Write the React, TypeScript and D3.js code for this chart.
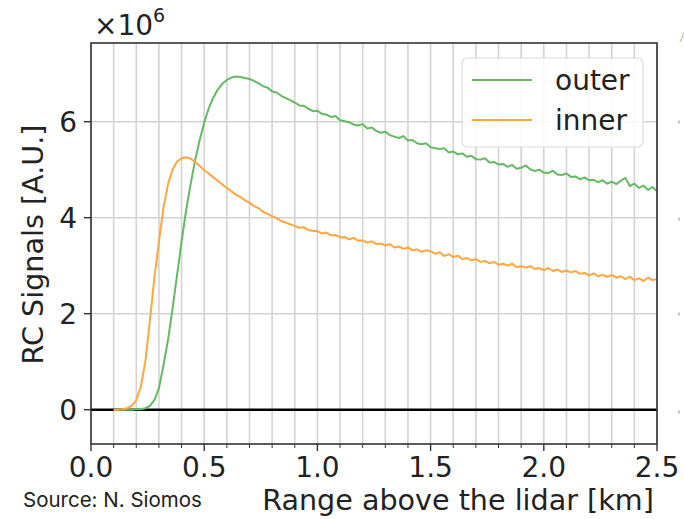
import React from "react";
import * as d3 from "d3";

// Range bins [km]
const rangeKm = [
  0.10, 0.12, 0.14, 0.16, 0.18, 0.20, 0.22, 0.24, 0.26, 0.28,
  0.30, 0.32, 0.34, 0.36, 0.38, 0.40, 0.42, 0.44, 0.46, 0.48,
  0.50, 0.52, 0.54, 0.56, 0.58, 0.60, 0.62, 0.64, 0.66, 0.68,
  0.70, 0.72, 0.74, 0.76, 0.78, 0.80, 0.82, 0.84, 0.86, 0.88,
  0.90, 0.92, 0.94, 0.96, 0.98, 1.00, 1.02, 1.04, 1.06, 1.08,
  1.10, 1.12, 1.14, 1.16, 1.18, 1.20, 1.22, 1.24, 1.26, 1.28,
  1.30, 1.32, 1.34, 1.36, 1.38, 1.40, 1.42, 1.44, 1.46, 1.48,
  1.50, 1.52, 1.54, 1.56, 1.58, 1.60, 1.62, 1.64, 1.66, 1.68,
  1.70, 1.72, 1.74, 1.76, 1.78, 1.80, 1.82, 1.84, 1.86, 1.88,
  1.90, 1.92, 1.94, 1.96, 1.98, 2.00, 2.02, 2.04, 2.06, 2.08,
  2.10, 2.12, 2.14, 2.16, 2.18, 2.20, 2.22, 2.24, 2.26, 2.28,
  2.30, 2.32, 2.34, 2.36, 2.38, 2.40, 2.42, 2.44, 2.46, 2.48,
  2.50,
];

// RC signals in units of 1e6
const outerSignal = [
  0.00, 0.00, 0.00, 0.00, 0.00, 0.01, 0.01, 0.03, 0.08, 0.20,
  0.45, 0.92, 1.45, 2.10, 2.80, 3.50, 4.15, 4.70, 5.20, 5.62,
  5.98, 6.28, 6.50, 6.67, 6.79, 6.87, 6.92, 6.94, 6.93, 6.91,
  6.89, 6.85, 6.80, 6.74, 6.71, 6.63, 6.61, 6.54, 6.49, 6.45,
  6.40, 6.34, 6.33, 6.27, 6.22, 6.23, 6.16, 6.15, 6.10, 6.12,
  6.03, 6.01, 5.99, 5.94, 5.92, 5.95, 5.86, 5.88, 5.81, 5.77,
  5.79, 5.72, 5.69, 5.66, 5.70, 5.61, 5.62, 5.55, 5.53, 5.55,
  5.47, 5.45, 5.43, 5.45, 5.36, 5.38, 5.32, 5.34, 5.27, 5.29,
  5.22, 5.21, 5.24, 5.15, 5.16, 5.11, 5.12, 5.06, 5.10, 5.02,
  5.04, 5.09, 5.01, 4.97, 5.00, 4.94, 4.93, 4.98, 4.90, 4.89,
  4.92, 4.85, 4.86, 4.80, 4.84, 4.78, 4.79, 4.74, 4.78, 4.71,
  4.75, 4.70, 4.77, 4.83, 4.66, 4.71, 4.62, 4.67, 4.58, 4.64,
  4.55,
];

const innerSignal = [
  0.00, 0.00, 0.01, 0.03, 0.08, 0.20, 0.48, 1.00, 1.85, 2.75,
  3.50, 4.20, 4.70, 5.00, 5.17, 5.24, 5.26, 5.23, 5.16, 5.08,
  4.99, 4.92, 4.84, 4.77, 4.69, 4.62, 4.55, 4.48, 4.43, 4.36,
  4.31, 4.24, 4.20, 4.12, 4.08, 4.03, 3.99, 3.93, 3.90, 3.86,
  3.83, 3.79, 3.80, 3.74, 3.73, 3.72, 3.67, 3.69, 3.63, 3.64,
  3.59, 3.60, 3.55, 3.58, 3.52, 3.53, 3.48, 3.51, 3.45, 3.46,
  3.42, 3.45, 3.38, 3.40, 3.35, 3.38, 3.32, 3.34, 3.29, 3.32,
  3.30, 3.25, 3.28, 3.20, 3.24, 3.18, 3.21, 3.14, 3.16, 3.11,
  3.14, 3.08, 3.10, 3.05, 3.08, 3.02, 3.04, 3.00, 3.04, 2.97,
  2.99, 2.96, 2.99, 2.93, 2.95, 2.91, 2.95, 2.89, 2.92, 2.87,
  2.90, 2.86, 2.89, 2.83, 2.85, 2.80, 2.84, 2.78, 2.81, 2.77,
  2.81, 2.75, 2.78, 2.72, 2.77, 2.70, 2.74, 2.68, 2.75, 2.70,
  2.72,
];

const seriesNames = ["outer", "inner"];
const seriesColors = ["#64b964", "#ffa640"];
const xTickLabels = ["0.0", "0.5", "1.0", "1.5", "2.0", "2.5"];
const xMajorTicks = [0, 0.5, 1.0, 1.5, 2.0, 2.5];
const xMinorTicks = [0.1, 0.2, 0.3, 0.4, 0.6, 0.7, 0.8, 0.9, 1.1, 1.2, 1.3, 1.4, 1.6, 1.7, 1.8, 1.9, 2.1, 2.2, 2.3, 2.4];
const yTicks = [0, 2, 4, 6];
const yTickLabels = ["0", "2", "4", "6"];

const W = 684;
const H = 519;
const L = 91, R = 657, T = 43, B = 444;
const FONT = "'DejaVu Sans', sans-serif";
const FS = 28;

export default function App() {
  const x = d3.scaleLinear().domain([0, 2.5]).range([L, R]);
  const y = d3.scaleLinear().domain([-0.715, 7.64]).range([B, T]);
  const line = d3
    .line<number>()
    .x((_, i) => x(rangeKm[i]))
    .y((d) => y(d));
  const series = [outerSignal, innerSignal];
  const allX = [...xMajorTicks, ...xMinorTicks];

  return (
    <svg
      width={W}
      height={H}
      style={{ position: "absolute", left: 0, top: 0, background: "#fff" }}
      fontFamily={FONT}
    >
      <rect x={0} y={0} width={W} height={H} fill="#fff" />
      {allX.map((t) => (
        <line key={"vg" + t} x1={x(t)} x2={x(t)} y1={T} y2={B} stroke="#d3d3d3" strokeWidth={1.6} />
      ))}
      {yTicks.map((t) => (
        <line key={"hg" + t} x1={L} x2={R} y1={y(t)} y2={y(t)} stroke="#d3d3d3" strokeWidth={1.6} />
      ))}
      <line x1={L} x2={R} y1={y(0)} y2={y(0)} stroke="#000" strokeWidth={2.4} />
      {series.map((s, i) => (
        <path key={"s" + i} d={line(s) || ""} fill="none" stroke={seriesColors[i]} strokeWidth={2} strokeLinejoin="round" />
      ))}
      <rect x={L} y={T} width={R - L} height={B - T} fill="none" stroke="#333" strokeWidth={1.6} />
      {xMajorTicks.map((t) => (
        <line key={"xt" + t} x1={x(t)} x2={x(t)} y1={B} y2={B + 7} stroke="#333" strokeWidth={1.4} />
      ))}
      {xMinorTicks.map((t) => (
        <line key={"xm" + t} x1={x(t)} x2={x(t)} y1={B} y2={B + 4} stroke="#333" strokeWidth={1} />
      ))}
      {xMajorTicks.map((t, i) => (
        <text key={"xl" + t} x={x(t)} y={477} textAnchor="middle" fontSize={FS} fill="#222">
          {xTickLabels[i]}
        </text>
      ))}
      {yTicks.map((t, i) => (
        <g key={"yt" + t}>
          <line x1={L - 7} x2={L} y1={y(t)} y2={y(t)} stroke="#333" strokeWidth={1.4} />
          <text x={L - 14} y={y(t)} dy="0.36em" textAnchor="end" fontSize={FS} fill="#222">
            {yTickLabels[i]}
          </text>
        </g>
      ))}
      <text x={94} y={35} fontSize={FS} fill="#222">
        ×10
        <tspan dy={-13} fontSize={19}>6</tspan>
      </text>
      <text x={458} y={510} textAnchor="middle" fontSize={28.6} fill="#222">
        Range above the lidar [km]
      </text>
      <text transform={`translate(43, ${(T + B) / 2 + 1}) rotate(-90)`} textAnchor="middle" fontSize={28.6} fill="#222">
        RC Signals [A.U.]
      </text>
      <rect x={462} y={58} width={181} height={89} rx={5} fill="#fff" fillOpacity={0.85} stroke="#dcdcdc" strokeWidth={1.2} />
      {seriesNames.map((n, i) => (
        <g key={"lg" + n}>
          <line x1={472} x2={532} y1={80 + i * 40} y2={80 + i * 40} stroke={seriesColors[i]} strokeWidth={2} />
          <text x={555} y={90 + i * 40} fontSize={FS} fill="#222">
            {n}
          </text>
        </g>
      ))}
      <text x={23} y={507} fontSize={20.5} fontFamily="Inter, sans-serif" fill="#222">
        Source: N. Siomos
      </text>
      {[122, 219, 314, 412].map((v) => (
        <line key={"fr" + v} x1={679} x2={679} y1={v - 1.5} y2={v + 1.5} stroke="#888" strokeWidth={1} />
      ))}
      <line x1={680} x2={684} y1={42} y2={33} stroke="#9fd49f" strokeWidth={1.2} />
    </svg>
  );
}
